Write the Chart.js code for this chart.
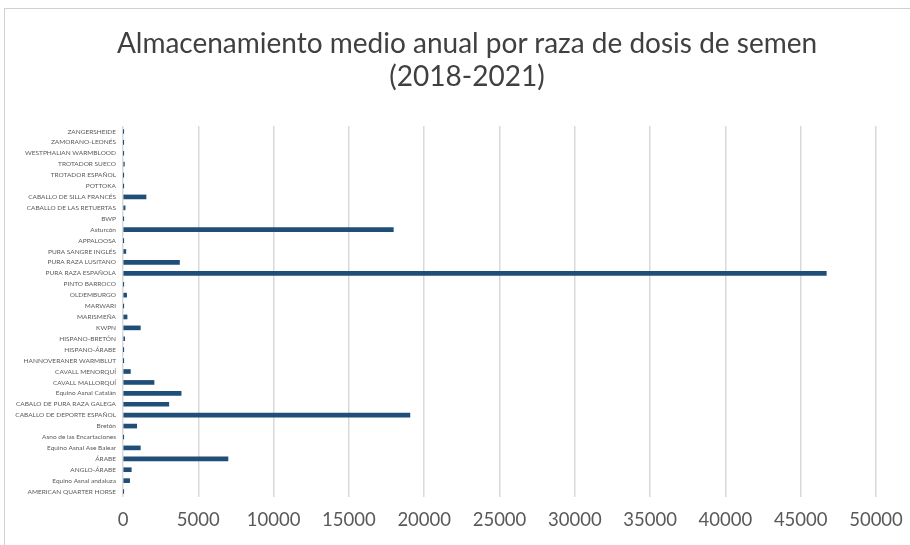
<!DOCTYPE html>
<html>
<head>
<meta charset="utf-8">
<script src="https://cdn.jsdelivr.net/npm/chart.js@4.4.0/dist/chart.umd.min.js"></script>
<style>
  html, body { margin: 0; padding: 0; background: #ffffff; }
  #frame { position: absolute; left: 4px; top: 8px; width: 920px; height: 560px; border: 1px solid #d0d0d0; box-sizing: border-box; }
  #wrap { position: absolute; left: 0; top: 0; width: 910px; height: 545px; }
  #title { position: absolute; left: 17px; width: 900px; top: 26px; text-align: center; color: #404040;
           font-family: Lato, 'Open Sans', sans-serif; font-size: 28px; line-height: 33px; }
</style>
</head>
<body>
<div id="frame"></div>
<div id="wrap"><canvas id="c" width="910" height="545"></canvas></div>
<div id="title"></div>
<script>
const titleLines = ["Almacenamiento medio anual por raza de dosis de semen", "(2018-2021)"];

const categories = [
  "ZANGERSHEIDE",
  "ZAMORANO-LEONÉS",
  "WESTPHALIAN WARMBLOOD",
  "TROTADOR SUECO",
  "TROTADOR ESPAÑOL",
  "POTTOKA",
  "CABALLO DE SILLA FRANCÉS",
  "CABALLO DE LAS RETUERTAS",
  "BWP",
  "Asturcón",
  "APPALOOSA",
  "PURA SANGRE INGLÉS",
  "PURA RAZA LUSITANO",
  "PURA RAZA ESPAÑOLA",
  "PINTO BARROCO",
  "OLDEMBURGO",
  "MARWARI",
  "MARISMEÑA",
  "KWPN",
  "HISPANO-BRETÓN",
  "HISPANO-ÁRABE",
  "HANNOVERANER WARMBLUT",
  "CAVALL MENORQUÍ",
  "CAVALL MALLORQUÍ",
  "Equino Asnal Catalán",
  "CABALO DE PURA RAZA GALEGA",
  "CABALLO DE DEPORTE ESPAÑOL",
  "Bretón",
  "Asno de las Encartaciones",
  "Equino Asnal Ase Balear",
  "ÁRABE",
  "ANGLO-ÁRABE",
  "Equino Asnal andaluza",
  "AMERICAN QUARTER HORSE"
];

const dosis = [
  15, 10, 10, 90, 10, 15, 1530, 140, 10, 17950, 10, 190, 3750, 46700,
  25, 240, 10, 270, 1150, 110, 15, 10, 490, 2060, 3860, 3040, 19050,
  910, 10, 1150, 6970, 550, 440, 10
];

const xTicks = [0, 5000, 10000, 15000, 20000, 25000, 30000, 35000, 40000, 45000, 50000];

document.getElementById('title').innerHTML = titleLines.join('<br>');

const FONT = "Lato, 'Open Sans', sans-serif";

new Chart(document.getElementById('c'), {
  type: 'bar',
  data: {
    labels: categories,
    datasets: [{
      data: dosis,
      backgroundColor: '#1f4e79',
      borderWidth: 0,
      barThickness: 4
    }]
  },
  options: {
    indexAxis: 'y',
    responsive: false,
    animation: false,
    devicePixelRatio: 1,
    layout: { padding: { left: 0, right: 34, top: 126, bottom: 14 } },
    plugins: {
      legend: { display: false },
      tooltip: { enabled: false },
      title: { display: false }
    },
    scales: {
      x: {
        type: 'linear',
        min: 0,
        max: 50000,
        afterBuildTicks: (s) => { s.ticks = xTicks.map(v => ({ value: v })); },
        afterFit: (s) => { s.height = 34; s.paddingLeft = 0; s.paddingRight = 0; },
        grid: { color: '#d9d9d9', lineWidth: 1.5, drawTicks: false },
        border: { display: false },
        ticks: {
          color: '#595959',
          padding: 12,
          font: { family: FONT, size: 18.5 },
          maxRotation: 0,
          autoSkip: false,
          callback: (v) => String(v)
        }
      },
      y: {
        afterFit: (s) => { s.width = 123; },
        grid: { display: false, drawTicks: false },
        border: { display: false },
        ticks: {
          color: '#595959',
          padding: 7,
          font: { family: FONT, size: 6.5 },
          autoSkip: false
        }
      }
    }
  }
});
</script>
</body>
</html>
